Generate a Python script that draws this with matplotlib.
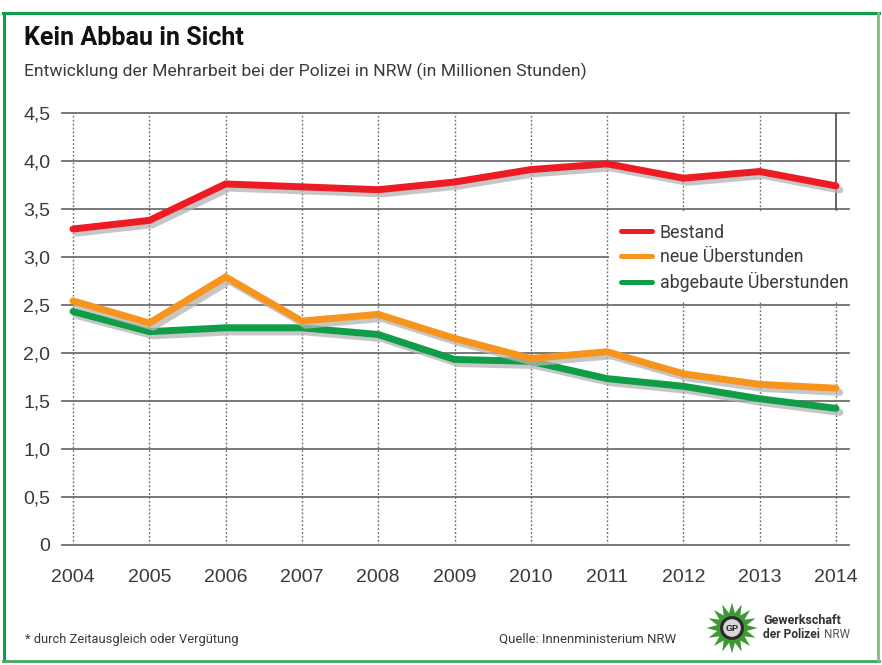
import numpy as np
import matplotlib
matplotlib.use("Agg")
import matplotlib.pyplot as plt
import matplotlib.patheffects as pe
from matplotlib.patches import Polygon, Circle, Rectangle
from matplotlib.lines import Line2D

W, H = 882, 665

years = [2004, 2005, 2006, 2007, 2008, 2009, 2010, 2011, 2012, 2013, 2014]
bestand = [3.29, 3.38, 3.76, 3.73, 3.70, 3.78, 3.91, 3.97, 3.82, 3.89, 3.74]
neue = [2.54, 2.31, 2.79, 2.33, 2.40, 2.15, 1.94, 2.01, 1.78, 1.67, 1.63]
abgebaut = [2.43, 2.22, 2.26, 2.26, 2.19, 1.93, 1.91, 1.73, 1.65, 1.52, 1.42]
y_ticks = [0, 0.5, 1.0, 1.5, 2.0, 2.5, 3.0, 3.5, 4.0, 4.5]
y_labels = ["0", "0,5", "1,0", "1,5", "2,0", "2,5", "3,0", "3,5", "4,0", "4,5"]

RED = "#ed1c24"
ORANGE = "#f7941d"
GREEN = "#0f9d48"
TEXT = "#3a3a3a"
GRID = "#6e6e6e"

NARROW = ["Roboto", "DejaVu Sans"]
plt.rcParams["font.family"] = ["Liberation Sans", "DejaVu Sans"]


def fx(px):
    return px / W


def fy(py):
    return 1 - py / H


fig = plt.figure(figsize=(W / 100, H / 100), dpi=100, facecolor="white")

# Rahmen
fig.add_artist(Line2D([fx(3.5), fx(3.5)], [fy(13), fy(660)], color=GREEN, lw=2.2))
fig.add_artist(Line2D([fx(2.5), fx(879)], [fy(13), fy(13)], color=GREEN, lw=2.2))
fig.add_artist(Line2D([fx(2.5), fx(879)], [fy(660.5), fy(660.5)], color="#3fa860", lw=2.0))
fig.add_artist(Line2D([fx(878), fx(878)], [fy(13), fy(660)], color="#7cc07c", lw=2.0))

ax = fig.add_axes([fx(62), fy(544.5), fx(849 - 62), (544.5 - 113) / H])
px_year = (836 - 73) / 10
ax.set_xlim(2004 - 11 / px_year, 2014 + 13 / px_year)
ax.set_ylim(0, 4.5)
for s in ax.spines.values():
    s.set_visible(False)

for v in y_ticks:
    ax.axhline(v, color=GRID, lw=1.3, zorder=1, clip_on=False)
for yr in years[:-1]:
    ax.axvline(yr, color=GRID, lw=1.0, ls=(0, (1.3, 1.5)), zorder=1)
ax.plot([2014, 2014], [0, 3.5], color=GRID, lw=1.0, ls=(0, (1.3, 1.5)), zorder=1)
ax.plot([2014, 2014], [3.5, 4.5], color="#4a4a4a", lw=1.2, zorder=1)

# Legendenbereich ohne Gitter
ax.add_patch(Rectangle((2011.03, 2.53), 3.3, 0.94, fc="white", ec="none", zorder=2, clip_on=False))

shadow = [pe.SimpleLineShadow(offset=(2.8, -3.0), shadow_color="#b4b4b4", alpha=0.75), pe.Normal()]
for vals, col, lab in [(abgebaut, GREEN, "abgebaute Überstunden"),
                       (neue, ORANGE, "neue Überstunden"),
                       (bestand, RED, "Bestand")]:
    ax.plot(years, vals, color=col, lw=5, solid_capstyle="round", solid_joinstyle="miter",
            path_effects=shadow, zorder=3, label=lab)

ax.set_xticks(years)
ax.set_xticklabels([str(y) for y in years], fontsize=14, color=TEXT)
ax.set_yticks(y_ticks)
ax.set_yticklabels(y_labels, fontsize=14, color=TEXT)
ax.tick_params(length=0)
ax.tick_params(axis="x", pad=18)
ax.tick_params(axis="y", pad=8.5)

handles, labels = ax.get_legend_handles_labels()
leg = ax.legend(handles[::-1], labels[::-1], loc="upper left",
                bbox_to_anchor=(fx(621), fy(223.5)), bbox_transform=fig.transFigure,
                frameon=False, handlelength=1.75, handletextpad=0.45, labelspacing=0.36,
                borderpad=0, borderaxespad=0,
                prop={"family": NARROW, "size": 12.75})
for t in leg.get_texts():
    t.set_color(TEXT)
for h in leg.get_lines():
    h.set_linewidth(3.6)
    h.set_path_effects([])
leg.set_zorder(5)

fig.text(fx(24), fy(38), "Kein Abbau in Sicht", family=NARROW, fontsize=18, fontweight="bold",
         color="#111111", va="center", ha="left")
fig.text(fx(24), fy(71), "Entwicklung der Mehrarbeit bei der Polizei in NRW (in Millionen Stunden)",
         family=NARROW, fontsize=12.6, color=TEXT, va="center", ha="left")
fig.text(fx(25), fy(639), "* durch Zeitausgleich oder Vergütung", family=NARROW, fontsize=9.3,
         color=TEXT, va="center", ha="left")
fig.text(fx(499), fy(639), "Quelle: Innenministerium NRW", family=NARROW, fontsize=9.45,
         color=TEXT, va="center", ha="left")
fig.text(fx(763), fy(620), "Gewerkschaft", fontsize=9, fontweight="bold", color="#333333",
         va="center", ha="left", family=NARROW)
fig.text(fx(763), fy(634), "der Polizei", fontsize=8.6, fontweight="bold", color="#333333",
         va="center", ha="left", family=NARROW)
fig.text(fx(824), fy(634), "NRW", fontsize=8.4, color="#555555", va="center", ha="left", family=NARROW)

# Logo: gruener Stern mit Kreis
logo = fig.add_axes([fx(706), fy(654), 52 / W, 52 / H])
logo.set_xlim(-1, 1)
logo.set_ylim(-1, 1)
logo.axis("off")
n = 16
ang = np.pi / 2 + np.arange(2 * n) * np.pi / n
rad = np.where(np.arange(2 * n) % 2 == 0, 0.98, 0.58)
logo.add_patch(Polygon(np.c_[rad * np.cos(ang), rad * np.sin(ang)], fc="#3f9a35", ec="none"))
logo.add_patch(Circle((0, 0), 0.46, fc="#2b2b2b", ec="none"))
logo.add_patch(Circle((0, 0), 0.34, fc="#d8d8d8", ec="none"))
logo.text(0, -0.02, "GP", fontsize=6.5, fontweight="bold", color="#222222", ha="center", va="center")

fig.savefig("out.png", dpi=100, facecolor="white")
